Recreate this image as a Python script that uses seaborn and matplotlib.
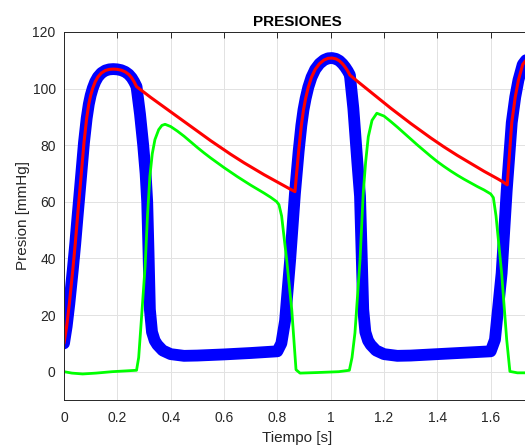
import numpy as np
import pandas as pd
import matplotlib
matplotlib.use("Agg")
import matplotlib.pyplot as plt
import seaborn as sns

# Ventricular pressure (blue)
t_vent = [0, 0.01, 0.02, 0.033, 0.042, 0.051, 0.064, 0.075, 0.085, 0.093, 0.1, 0.108, 0.117, 0.127,
          0.14, 0.155, 0.17, 0.185, 0.2, 0.215, 0.23, 0.243, 0.254, 0.263, 0.272, 0.285, 0.297,
          0.306, 0.312, 0.317, 0.322, 0.33, 0.34, 0.35, 0.37, 0.4, 0.45, 0.5, 0.6, 0.7, 0.8, 0.815,
          0.829, 0.848, 0.866, 0.88, 0.89, 0.898, 0.906, 0.916, 0.928, 0.942, 0.958, 0.975, 0.99,
          1.005, 1.02, 1.033, 1.045, 1.055, 1.064, 1.072, 1.085, 1.10, 1.11, 1.116, 1.122, 1.13,
          1.14, 1.15, 1.17, 1.2, 1.25, 1.3, 1.4, 1.5, 1.6, 1.616, 1.641, 1.66, 1.679, 1.692, 1.704,
          1.72, 1.74, 1.76]
p_vent = [10, 16, 24, 36, 45, 55, 69, 81, 89.5, 94.5, 97.6, 100.2, 102.4, 104.1,
          105.5, 106.4, 106.8, 106.9, 106.8, 106.5, 105.9, 105, 103.8, 102.4, 100.7, 91, 80,
          70, 60, 42, 22, 14, 11, 9.5, 7.5, 6.2, 5.6, 5.7, 6.1, 6.6, 7.2, 10,
          18, 39.5, 63, 78, 87, 92.5, 96.5, 100.5, 104, 106.8, 108.8, 110.1, 110.7,
          110.8, 110.5, 109.8, 108.7, 107.5, 106.2, 104.8, 93, 74, 62, 42, 22, 14,
          11, 9.5, 7.5, 6.2, 5.6, 5.7, 6.2, 6.7, 7.2, 11.3, 34.8, 64, 88, 97, 103,
          108.5, 111, 112]

# Aortic pressure (red)
t_aort = [0, 0.01, 0.02, 0.033, 0.042, 0.051, 0.064, 0.075, 0.085, 0.093, 0.1, 0.108, 0.117, 0.127,
          0.14, 0.155, 0.17, 0.185, 0.2, 0.215, 0.23, 0.243, 0.254, 0.263, 0.272,
          0.3, 0.325, 0.35, 0.375, 0.4, 0.425, 0.45, 0.475, 0.5, 0.525, 0.55, 0.575, 0.6, 0.625,
          0.65, 0.675, 0.7, 0.725, 0.75, 0.775, 0.8, 0.825, 0.85, 0.866,
          0.88, 0.89, 0.898, 0.906, 0.916, 0.928, 0.942, 0.958, 0.975, 0.99, 1.005, 1.02, 1.033,
          1.045, 1.055, 1.064, 1.072,
          1.1, 1.125, 1.15, 1.175, 1.2, 1.225, 1.25, 1.275, 1.3, 1.325, 1.35, 1.375, 1.4, 1.425,
          1.45, 1.475, 1.5, 1.525, 1.55, 1.575, 1.6, 1.625, 1.645, 1.662,
          1.679, 1.692, 1.704, 1.72, 1.74, 1.76]
p_aort = [10, 16, 24, 36, 45, 55, 69, 81, 89.5, 94.5, 97.6, 100.2, 102.4, 104.1,
          105.5, 106.4, 106.8, 106.9, 106.8, 106.5, 105.9, 105, 103.8, 102.4, 100.7,
          98.7, 96.9, 95.2, 93.5, 91.8, 90.1, 88.4, 86.7, 85.0, 83.3, 81.6, 80.0, 78.4, 76.8,
          75.3, 73.8, 72.4, 71.0, 69.6, 68.3, 67.0, 65.7, 64.4, 63.6,
          78, 87, 92.5, 96.5, 100.5, 104, 106.8, 108.8, 110.1, 110.7, 110.8, 110.5, 109.8,
          108.7, 107.5, 106.2, 104.8,
          102.6, 100.7, 98.8, 96.9, 95.0, 93.1, 91.3, 89.5, 87.7, 86.0, 84.3, 82.6, 81.0, 79.4,
          77.9, 76.4, 75.0, 73.6, 72.2, 70.8, 69.5, 68.2, 67.1, 66.0,
          88, 97, 103, 108.5, 111, 112]

# Third pressure (green)
t_green = [0, 0.03, 0.07, 0.12, 0.18, 0.272, 0.28, 0.291, 0.304, 0.313, 0.322, 0.331, 0.341, 0.355,
           0.367, 0.379, 0.4, 0.425, 0.45, 0.475, 0.5, 0.525, 0.55, 0.575, 0.6, 0.625, 0.65, 0.675,
           0.7, 0.725, 0.75, 0.775, 0.797, 0.806, 0.816, 0.835, 0.854, 0.87, 0.885, 0.95, 1.03,
           1.07, 1.08, 1.091, 1.11, 1.122, 1.131, 1.141, 1.155, 1.173, 1.2, 1.225, 1.25, 1.275,
           1.3, 1.325, 1.35, 1.375, 1.4, 1.425, 1.45, 1.475, 1.5, 1.525, 1.55, 1.575, 1.6, 1.61,
           1.62, 1.641, 1.66, 1.672, 1.7, 1.76]
p_green = [0, -0.5, -0.8, -0.5, 0, 0.5, 5, 19.5, 37, 55, 69, 77, 82, 85.5,
           87, 87.4, 86.6, 85, 83.2, 81.2, 79.2, 77.3, 75.5, 73.8, 72.1, 70.5, 68.9, 67.4,
           65.9, 64.5, 63.1, 61.6, 60.1, 59, 55, 39.5, 21.9, 0.7, -0.5, -0.3, 0,
           0.5, 5, 13.7, 39.5, 63, 74, 83, 88.8, 91.3, 90.3, 88.4, 86.4, 84.3,
           82.2, 80.1, 78.1, 76.1, 74.2, 72.5, 70.9, 69.4, 68.0, 66.7, 65.4, 64.2, 62.8, 61.5,
           55, 34.8, 11.3, 0.1, -0.4, -0.4]

x_ticks = [0, 0.2, 0.4, 0.6, 0.8, 1.0, 1.2, 1.4, 1.6]
x_labels = ["0", "0.2", "0.4", "0.6", "0.8", "1", "1.2", "1.4", "1.6"]
y_ticks = [0, 20, 40, 60, 80, 100, 120]

sns.set_style("white")
plt.rcParams["font.family"] = ["Liberation Sans", "DejaVu Sans"]

fig = plt.figure(figsize=(5.25, 4.45), dpi=100)
ax = fig.add_axes([64 / 525, 45 / 445, 466.7 / 525, 368 / 445])

dark = "#262626"
sns.lineplot(x=t_vent, y=p_vent, ax=ax, color="#0000ff", lw=8.5, sort=False, estimator=None,
             solid_capstyle="round", solid_joinstyle="round")
sns.lineplot(x=t_aort, y=p_aort, ax=ax, color="#ff0000", lw=2.2, sort=False, estimator=None)
sns.lineplot(x=t_green, y=p_green, ax=ax, color="#00ff00", lw=2.0, sort=False, estimator=None)

ax.set_xticks(x_ticks)
ax.set_xticklabels(x_labels)
ax.set_yticks(y_ticks)
ax.set_xlim(0, 1.75)
ax.set_ylim(-10, 120)
ax.grid(True, color="#e2e2e2", lw=0.7)
ax.set_axisbelow(True)
for s in ax.spines.values():
    s.set_color(dark)
    s.set_linewidth(0.7)
ax.tick_params(direction="in", length=4, width=0.7, color=dark, labelcolor=dark,
               labelsize=10, top=True, right=True)
ax.tick_params(axis="x", pad=8)
ax.tick_params(axis="y", pad=6)
ax.set_title("PRESIONES", fontsize=11, fontweight="bold", color="black", pad=4)
ax.set_xlabel("Tiempo [s]", fontsize=11, color=dark, labelpad=4)
ax.set_ylabel("Presion [mmHg]", fontsize=11, color=dark, labelpad=2)

fig.savefig("out.png", dpi=100)
